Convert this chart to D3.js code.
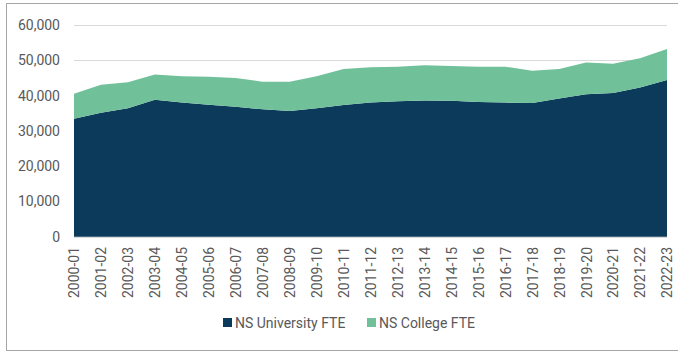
<!DOCTYPE html>
<html>
<head>
<meta charset="utf-8">
<script src="https://cdn.jsdelivr.net/npm/d3@7"></script>
<style>
  html, body { margin: 0; padding: 0; background: #fff; }
  svg { display: block; font-family: Roboto, "Noto Sans", sans-serif; }
</style>
</head>
<body>
<svg id="chart" width="678" height="352"></svg>
<script>
// Academic years
const years = ["2000-01","2001-02","2002-03","2003-04","2004-05","2005-06","2006-07","2007-08",
  "2008-09","2009-10","2010-11","2011-12","2012-13","2013-14","2014-15","2015-16","2016-17",
  "2017-18","2018-19","2019-20","2020-21","2021-22","2022-23"];

// Full-time equivalent enrolment
const universityFTE = [33400, 35100, 36400, 38800, 38000, 37400, 36800, 36100,
  35600, 36400, 37300, 38000, 38400, 38600, 38500, 38200, 38000,
  37900, 39200, 40400, 40700, 42300, 44400];
const collegeFTE = [7100, 8000, 7400, 7200, 7500, 7900, 8200, 7800,
  8300, 9100, 10200, 10000, 9800, 10000, 9900, 10000, 10200,
  9100, 8300, 9000, 8300, 8300, 8800];

const yTicks = [0, 10000, 20000, 30000, 40000, 50000, 60000];

const seriesNames = ["NS University FTE", "NS College FTE"];
const seriesColors = ["#0b3a5b", "#70c09a"];

const rows = years.map((y, i) => ({
  year: y,
  "NS University FTE": universityFTE[i],
  "NS College FTE": collegeFTE[i]
}));

const svg = d3.select("#chart");

// Outer frame
svg.append("rect")
  .attr("x", 6.5).attr("y", 3.5)
  .attr("width", 680).attr("height", 347)
  .attr("fill", "none").attr("stroke", "#a6a6a6").attr("stroke-width", 1);

const x = d3.scalePoint().domain(years).range([74, 667]);
const y = d3.scaleLinear().domain([0, 60000]).range([236.7, 25]);

// Gridlines
svg.append("g")
  .selectAll("line")
  .data(yTicks)
  .join("line")
  .attr("x1", 74).attr("x2", 667)
  .attr("y1", d => Math.round(y(d)) + 0.5)
  .attr("y2", d => Math.round(y(d)) + 0.5)
  .attr("stroke", "#d9d9d9").attr("stroke-width", 1);

// Stacked areas
const stack = d3.stack().keys(seriesNames);
const layers = stack(rows);

const area = d3.area()
  .x(d => x(d.data.year))
  .y0(d => y(d[0]))
  .y1(d => y(d[1]))
  .curve(d3.curveLinear);

svg.append("g")
  .selectAll("path")
  .data(layers)
  .join("path")
  .attr("fill", (d, i) => seriesColors[i])
  .attr("d", area);

// Y axis labels
const yAxis = d3.axisLeft(y)
  .tickValues(yTicks)
  .tickFormat(d3.format(","))
  .tickSize(0)
  .tickPadding(0);

const gy = svg.append("g")
  .attr("transform", "translate(60,0)")
  .call(yAxis);
gy.select(".domain").remove();
gy.selectAll("text")
  .attr("fill", "#595959")
  .style("font-size", "14px")
  .style("font-family", "Roboto, sans-serif");

// X axis labels, rotated
const xAxis = d3.axisBottom(x).tickSize(0).tickPadding(0);
const gx = svg.append("g")
  .attr("transform", "translate(0,247)")
  .call(xAxis);
gx.select(".domain").remove();
gx.selectAll("text")
  .attr("fill", "#595959")
  .style("font-size", "14px")
  .style("font-family", "Roboto, sans-serif")
  .attr("transform", "rotate(-90)")
  .attr("text-anchor", "end")
  .attr("x", 0)
  .attr("y", 0)
  .attr("dx", 0)
  .attr("dy", "0.35em");

// Legend
const legendItems = [
  { name: seriesNames[0], color: seriesColors[0], x: 223 },
  { name: seriesNames[1], color: seriesColors[1], x: 367 }
];
const lg = svg.append("g");
legendItems.forEach(item => {
  lg.append("rect")
    .attr("x", item.x).attr("y", 318)
    .attr("width", 9).attr("height", 9)
    .attr("fill", item.color);
  lg.append("text")
    .attr("x", item.x + 12).attr("y", 323)
    .attr("dy", "0.35em")
    .attr("fill", "#595959")
    .style("font-size", "14px")
    .text(item.name);
});
</script>
</body>
</html>
